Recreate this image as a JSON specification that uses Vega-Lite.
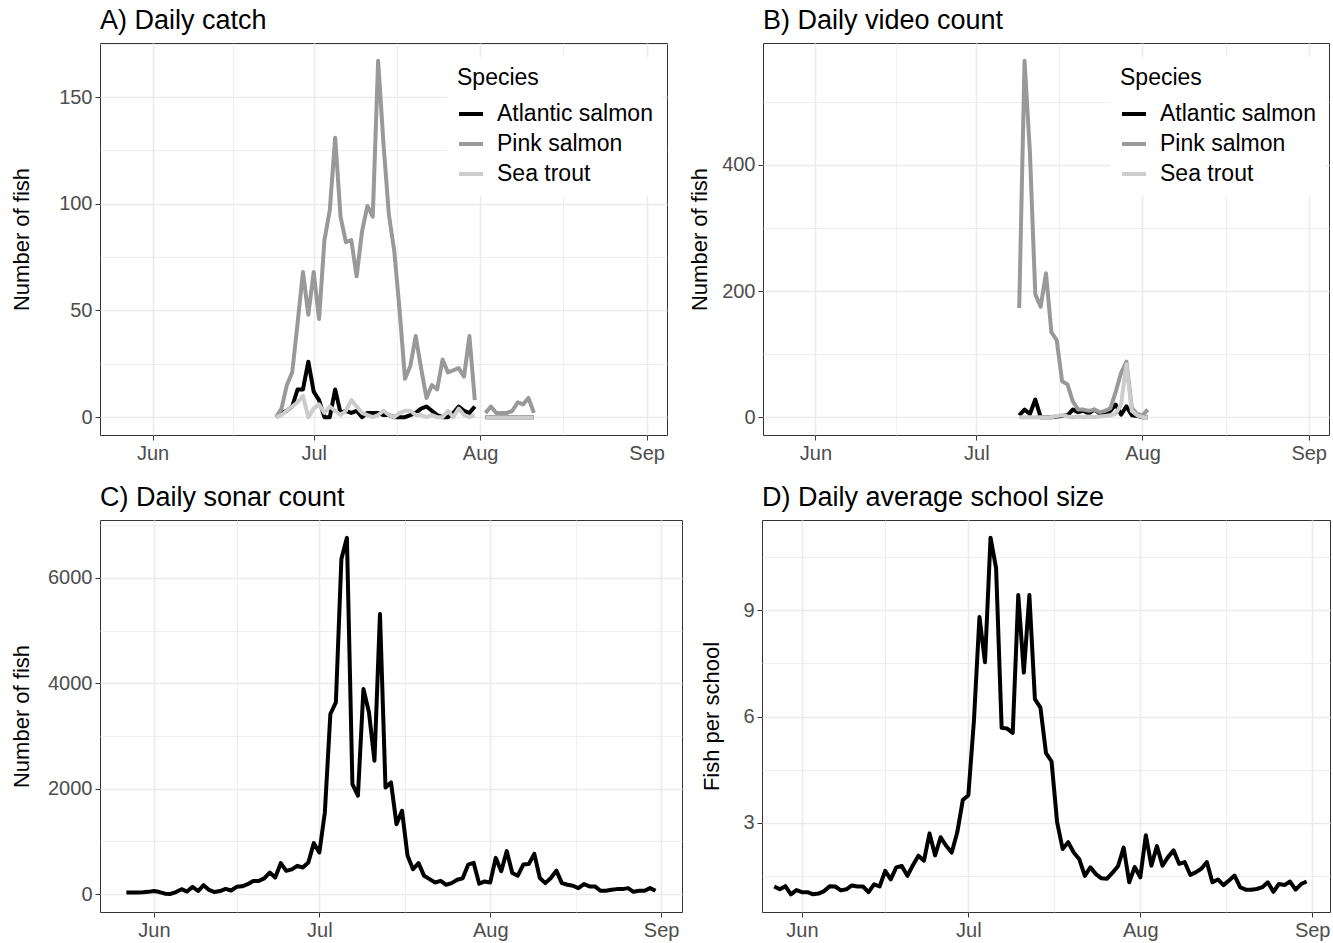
{
  "$schema": "https://vega.github.io/schema/vega-lite/v6.json",
  "padding": {"left": 9, "top": 6, "right": 0, "bottom": 0},
  "background": "white",
  "config": {
    "font": "Liberation Sans",
    "view": {"stroke": "#333333", "strokeWidth": 1},
    "axis": {"domain": false, "tickSize": 5, "tickWidth": 1, "labelColor": "#4d4d4d", "labelFontSize": 20, "labelPadding": 3, "titleFontSize": 22, "titleFontWeight": "normal", "titleColor": "#000000", "gridColor": "#ebebeb", "titlePadding": 9},
    "title": {"fontSize": 27, "fontWeight": "normal", "anchor": "start", "frame": "group", "color": "#000000", "offset": 8},
    "legend": {"orient": "none", "legendX": 347, "legendY": 14, "padding": 10, "fillColor": "white", "titleFontSize": 23, "titleFontWeight": "normal", "titleColor": "#000000", "labelFontSize": 23, "labelColor": "#000000", "symbolType": "stroke", "symbolSize": 576, "symbolStrokeWidth": 4, "labelOffset": 12, "rowPadding": 4, "titlePadding": 10}
  },
  "datasets": {
    "catch": [
      {"d":"2021-06-24","sp":"Atlantic salmon","n":0},{"d":"2021-06-25","sp":"Atlantic salmon","n":2},{"d":"2021-06-26","sp":"Atlantic salmon","n":3},{"d":"2021-06-27","sp":"Atlantic salmon","n":5},{"d":"2021-06-28","sp":"Atlantic salmon","n":13},{"d":"2021-06-29","sp":"Atlantic salmon","n":13},{"d":"2021-06-30","sp":"Atlantic salmon","n":26},
      {"d":"2021-07-01","sp":"Atlantic salmon","n":12},{"d":"2021-07-02","sp":"Atlantic salmon","n":8},{"d":"2021-07-03","sp":"Atlantic salmon","n":0},{"d":"2021-07-04","sp":"Atlantic salmon","n":0},{"d":"2021-07-05","sp":"Atlantic salmon","n":13},{"d":"2021-07-06","sp":"Atlantic salmon","n":2},{"d":"2021-07-07","sp":"Atlantic salmon","n":3},{"d":"2021-07-08","sp":"Atlantic salmon","n":2},{"d":"2021-07-09","sp":"Atlantic salmon","n":3},{"d":"2021-07-10","sp":"Atlantic salmon","n":0},{"d":"2021-07-11","sp":"Atlantic salmon","n":2},{"d":"2021-07-12","sp":"Atlantic salmon","n":2},{"d":"2021-07-13","sp":"Atlantic salmon","n":2},{"d":"2021-07-14","sp":"Atlantic salmon","n":1},{"d":"2021-07-15","sp":"Atlantic salmon","n":1},{"d":"2021-07-16","sp":"Atlantic salmon","n":0},{"d":"2021-07-17","sp":"Atlantic salmon","n":0},{"d":"2021-07-18","sp":"Atlantic salmon","n":0},{"d":"2021-07-19","sp":"Atlantic salmon","n":1},{"d":"2021-07-20","sp":"Atlantic salmon","n":2},{"d":"2021-07-21","sp":"Atlantic salmon","n":4},{"d":"2021-07-22","sp":"Atlantic salmon","n":5},{"d":"2021-07-23","sp":"Atlantic salmon","n":3},{"d":"2021-07-24","sp":"Atlantic salmon","n":1},{"d":"2021-07-25","sp":"Atlantic salmon","n":0},{"d":"2021-07-26","sp":"Atlantic salmon","n":0},{"d":"2021-07-27","sp":"Atlantic salmon","n":2},{"d":"2021-07-28","sp":"Atlantic salmon","n":5},{"d":"2021-07-29","sp":"Atlantic salmon","n":3},{"d":"2021-07-30","sp":"Atlantic salmon","n":2},{"d":"2021-07-31","sp":"Atlantic salmon","n":5},
      {"d":"2021-08-01","sp":"Atlantic salmon","n":null},{"d":"2021-08-02","sp":"Atlantic salmon","n":0},{"d":"2021-08-03","sp":"Atlantic salmon","n":0},{"d":"2021-08-04","sp":"Atlantic salmon","n":0},{"d":"2021-08-05","sp":"Atlantic salmon","n":0},{"d":"2021-08-06","sp":"Atlantic salmon","n":0},{"d":"2021-08-07","sp":"Atlantic salmon","n":0},{"d":"2021-08-08","sp":"Atlantic salmon","n":0},{"d":"2021-08-09","sp":"Atlantic salmon","n":0},{"d":"2021-08-10","sp":"Atlantic salmon","n":0},{"d":"2021-08-11","sp":"Atlantic salmon","n":0},
      {"d":"2021-06-24","sp":"Pink salmon","n":0},{"d":"2021-06-25","sp":"Pink salmon","n":4},{"d":"2021-06-26","sp":"Pink salmon","n":15},{"d":"2021-06-27","sp":"Pink salmon","n":21},{"d":"2021-06-28","sp":"Pink salmon","n":44},{"d":"2021-06-29","sp":"Pink salmon","n":68},{"d":"2021-06-30","sp":"Pink salmon","n":48},
      {"d":"2021-07-01","sp":"Pink salmon","n":68},{"d":"2021-07-02","sp":"Pink salmon","n":46},{"d":"2021-07-03","sp":"Pink salmon","n":83},{"d":"2021-07-04","sp":"Pink salmon","n":97},{"d":"2021-07-05","sp":"Pink salmon","n":131},{"d":"2021-07-06","sp":"Pink salmon","n":94},{"d":"2021-07-07","sp":"Pink salmon","n":82},{"d":"2021-07-08","sp":"Pink salmon","n":83},{"d":"2021-07-09","sp":"Pink salmon","n":66},{"d":"2021-07-10","sp":"Pink salmon","n":87},{"d":"2021-07-11","sp":"Pink salmon","n":99},{"d":"2021-07-12","sp":"Pink salmon","n":94},{"d":"2021-07-13","sp":"Pink salmon","n":167},{"d":"2021-07-14","sp":"Pink salmon","n":128},{"d":"2021-07-15","sp":"Pink salmon","n":95},{"d":"2021-07-16","sp":"Pink salmon","n":78},{"d":"2021-07-17","sp":"Pink salmon","n":50},{"d":"2021-07-18","sp":"Pink salmon","n":18},{"d":"2021-07-19","sp":"Pink salmon","n":24},{"d":"2021-07-20","sp":"Pink salmon","n":38},{"d":"2021-07-21","sp":"Pink salmon","n":23},{"d":"2021-07-22","sp":"Pink salmon","n":9},{"d":"2021-07-23","sp":"Pink salmon","n":15},{"d":"2021-07-24","sp":"Pink salmon","n":13},{"d":"2021-07-25","sp":"Pink salmon","n":27},{"d":"2021-07-26","sp":"Pink salmon","n":21},{"d":"2021-07-27","sp":"Pink salmon","n":22},{"d":"2021-07-28","sp":"Pink salmon","n":23},{"d":"2021-07-29","sp":"Pink salmon","n":19},{"d":"2021-07-30","sp":"Pink salmon","n":38},{"d":"2021-07-31","sp":"Pink salmon","n":8},
      {"d":"2021-08-01","sp":"Pink salmon","n":null},{"d":"2021-08-02","sp":"Pink salmon","n":2},{"d":"2021-08-03","sp":"Pink salmon","n":5},{"d":"2021-08-04","sp":"Pink salmon","n":2},{"d":"2021-08-05","sp":"Pink salmon","n":2},{"d":"2021-08-06","sp":"Pink salmon","n":2},{"d":"2021-08-07","sp":"Pink salmon","n":3},{"d":"2021-08-08","sp":"Pink salmon","n":7},{"d":"2021-08-09","sp":"Pink salmon","n":6},{"d":"2021-08-10","sp":"Pink salmon","n":9},{"d":"2021-08-11","sp":"Pink salmon","n":2},
      {"d":"2021-06-24","sp":"Sea trout","n":0},{"d":"2021-06-25","sp":"Sea trout","n":1},{"d":"2021-06-26","sp":"Sea trout","n":3},{"d":"2021-06-27","sp":"Sea trout","n":5},{"d":"2021-06-28","sp":"Sea trout","n":7},{"d":"2021-06-29","sp":"Sea trout","n":10},{"d":"2021-06-30","sp":"Sea trout","n":0},
      {"d":"2021-07-01","sp":"Sea trout","n":4},{"d":"2021-07-02","sp":"Sea trout","n":6},{"d":"2021-07-03","sp":"Sea trout","n":2},{"d":"2021-07-04","sp":"Sea trout","n":5},{"d":"2021-07-05","sp":"Sea trout","n":3},{"d":"2021-07-06","sp":"Sea trout","n":1},{"d":"2021-07-07","sp":"Sea trout","n":3},{"d":"2021-07-08","sp":"Sea trout","n":8},{"d":"2021-07-09","sp":"Sea trout","n":5},{"d":"2021-07-10","sp":"Sea trout","n":2},{"d":"2021-07-11","sp":"Sea trout","n":1},{"d":"2021-07-12","sp":"Sea trout","n":0},{"d":"2021-07-13","sp":"Sea trout","n":1},{"d":"2021-07-14","sp":"Sea trout","n":3},{"d":"2021-07-15","sp":"Sea trout","n":1},{"d":"2021-07-16","sp":"Sea trout","n":0},{"d":"2021-07-17","sp":"Sea trout","n":2},{"d":"2021-07-18","sp":"Sea trout","n":3},{"d":"2021-07-19","sp":"Sea trout","n":3},{"d":"2021-07-20","sp":"Sea trout","n":1},{"d":"2021-07-21","sp":"Sea trout","n":1},{"d":"2021-07-22","sp":"Sea trout","n":0},{"d":"2021-07-23","sp":"Sea trout","n":1},{"d":"2021-07-24","sp":"Sea trout","n":0},{"d":"2021-07-25","sp":"Sea trout","n":0},{"d":"2021-07-26","sp":"Sea trout","n":3},{"d":"2021-07-27","sp":"Sea trout","n":0},{"d":"2021-07-28","sp":"Sea trout","n":4},{"d":"2021-07-29","sp":"Sea trout","n":1},{"d":"2021-07-30","sp":"Sea trout","n":0},{"d":"2021-07-31","sp":"Sea trout","n":1},
      {"d":"2021-08-01","sp":"Sea trout","n":null},{"d":"2021-08-02","sp":"Sea trout","n":0},{"d":"2021-08-03","sp":"Sea trout","n":0},{"d":"2021-08-04","sp":"Sea trout","n":0},{"d":"2021-08-05","sp":"Sea trout","n":0},{"d":"2021-08-06","sp":"Sea trout","n":0},{"d":"2021-08-07","sp":"Sea trout","n":0},{"d":"2021-08-08","sp":"Sea trout","n":0},{"d":"2021-08-09","sp":"Sea trout","n":0},{"d":"2021-08-10","sp":"Sea trout","n":0},{"d":"2021-08-11","sp":"Sea trout","n":0}
    ],
    "video": [
      {"d":"2021-07-09","sp":"Atlantic salmon","n":3},{"d":"2021-07-10","sp":"Atlantic salmon","n":12},{"d":"2021-07-11","sp":"Atlantic salmon","n":5},{"d":"2021-07-12","sp":"Atlantic salmon","n":28},{"d":"2021-07-13","sp":"Atlantic salmon","n":0},{"d":"2021-07-14","sp":"Atlantic salmon","n":0},{"d":"2021-07-15","sp":"Atlantic salmon","n":0},{"d":"2021-07-16","sp":"Atlantic salmon","n":1},{"d":"2021-07-17","sp":"Atlantic salmon","n":2},{"d":"2021-07-18","sp":"Atlantic salmon","n":3},{"d":"2021-07-19","sp":"Atlantic salmon","n":12},{"d":"2021-07-20","sp":"Atlantic salmon","n":8},{"d":"2021-07-21","sp":"Atlantic salmon","n":10},{"d":"2021-07-22","sp":"Atlantic salmon","n":6},{"d":"2021-07-23","sp":"Atlantic salmon","n":12},{"d":"2021-07-24","sp":"Atlantic salmon","n":6},{"d":"2021-07-25","sp":"Atlantic salmon","n":5},{"d":"2021-07-26","sp":"Atlantic salmon","n":10},{"d":"2021-07-27","sp":"Atlantic salmon","n":20},{"d":"2021-07-28","sp":"Atlantic salmon","n":4},{"d":"2021-07-29","sp":"Atlantic salmon","n":17},{"d":"2021-07-30","sp":"Atlantic salmon","n":3},{"d":"2021-07-31","sp":"Atlantic salmon","n":2},{"d":"2021-08-01","sp":"Atlantic salmon","n":0},{"d":"2021-08-02","sp":"Atlantic salmon","n":0},
      {"d":"2021-07-09","sp":"Pink salmon","n":173},{"d":"2021-07-10","sp":"Pink salmon","n":565},{"d":"2021-07-11","sp":"Pink salmon","n":420},{"d":"2021-07-12","sp":"Pink salmon","n":195},{"d":"2021-07-13","sp":"Pink salmon","n":175},{"d":"2021-07-14","sp":"Pink salmon","n":228},{"d":"2021-07-15","sp":"Pink salmon","n":135},{"d":"2021-07-16","sp":"Pink salmon","n":122},{"d":"2021-07-17","sp":"Pink salmon","n":57},{"d":"2021-07-18","sp":"Pink salmon","n":52},{"d":"2021-07-19","sp":"Pink salmon","n":25},{"d":"2021-07-20","sp":"Pink salmon","n":12},{"d":"2021-07-21","sp":"Pink salmon","n":12},{"d":"2021-07-22","sp":"Pink salmon","n":10},{"d":"2021-07-23","sp":"Pink salmon","n":12},{"d":"2021-07-24","sp":"Pink salmon","n":8},{"d":"2021-07-25","sp":"Pink salmon","n":10},{"d":"2021-07-26","sp":"Pink salmon","n":14},{"d":"2021-07-27","sp":"Pink salmon","n":40},{"d":"2021-07-28","sp":"Pink salmon","n":70},{"d":"2021-07-29","sp":"Pink salmon","n":88},{"d":"2021-07-30","sp":"Pink salmon","n":15},{"d":"2021-07-31","sp":"Pink salmon","n":5},{"d":"2021-08-01","sp":"Pink salmon","n":3},{"d":"2021-08-02","sp":"Pink salmon","n":12},
      {"d":"2021-07-09","sp":"Sea trout","n":0},{"d":"2021-07-10","sp":"Sea trout","n":0},{"d":"2021-07-11","sp":"Sea trout","n":0},{"d":"2021-07-12","sp":"Sea trout","n":0},{"d":"2021-07-13","sp":"Sea trout","n":0},{"d":"2021-07-14","sp":"Sea trout","n":0},{"d":"2021-07-15","sp":"Sea trout","n":0},{"d":"2021-07-16","sp":"Sea trout","n":2},{"d":"2021-07-17","sp":"Sea trout","n":3},{"d":"2021-07-18","sp":"Sea trout","n":1},{"d":"2021-07-19","sp":"Sea trout","n":0},{"d":"2021-07-20","sp":"Sea trout","n":1},{"d":"2021-07-21","sp":"Sea trout","n":0},{"d":"2021-07-22","sp":"Sea trout","n":1},{"d":"2021-07-23","sp":"Sea trout","n":0},{"d":"2021-07-24","sp":"Sea trout","n":1},{"d":"2021-07-25","sp":"Sea trout","n":2},{"d":"2021-07-26","sp":"Sea trout","n":3},{"d":"2021-07-27","sp":"Sea trout","n":5},{"d":"2021-07-28","sp":"Sea trout","n":20},{"d":"2021-07-29","sp":"Sea trout","n":84},{"d":"2021-07-30","sp":"Sea trout","n":10},{"d":"2021-07-31","sp":"Sea trout","n":3},{"d":"2021-08-01","sp":"Sea trout","n":0},{"d":"2021-08-02","sp":"Sea trout","n":0}
    ],
    "sonar": [
      {"d":"2021-05-27","count":30,"school":1.20},{"d":"2021-05-28","count":32,"school":1.12},{"d":"2021-05-29","count":30,"school":1.21},{"d":"2021-05-30","count":35,"school":0.98},{"d":"2021-05-31","count":44,"school":1.10},
      {"d":"2021-06-01","count":60,"school":1.04},{"d":"2021-06-02","count":40,"school":1.04},{"d":"2021-06-03","count":10,"school":0.98},{"d":"2021-06-04","count":5,"school":1.00},{"d":"2021-06-05","count":40,"school":1.07},{"d":"2021-06-06","count":95,"school":1.21},{"d":"2021-06-07","count":50,"school":1.20},{"d":"2021-06-08","count":139,"school":1.09},{"d":"2021-06-09","count":60,"school":1.12},{"d":"2021-06-10","count":171,"school":1.23},{"d":"2021-06-11","count":80,"school":1.20},{"d":"2021-06-12","count":40,"school":1.20},{"d":"2021-06-13","count":60,"school":1.04},{"d":"2021-06-14","count":100,"school":1.26},{"d":"2021-06-15","count":70,"school":1.20},{"d":"2021-06-16","count":140,"school":1.64},{"d":"2021-06-17","count":150,"school":1.40},{"d":"2021-06-18","count":190,"school":1.74},{"d":"2021-06-19","count":250,"school":1.78},{"d":"2021-06-20","count":250,"school":1.50},{"d":"2021-06-21","count":300,"school":1.80},{"d":"2021-06-22","count":411,"school":2.07},{"d":"2021-06-23","count":316,"school":1.93},{"d":"2021-06-24","count":589,"school":2.70},{"d":"2021-06-25","count":443,"school":2.08},{"d":"2021-06-26","count":470,"school":2.59},{"d":"2021-06-27","count":538,"school":2.35},{"d":"2021-06-28","count":506,"school":2.16},{"d":"2021-06-29","count":601,"school":2.73},{"d":"2021-06-30","count":968,"school":3.64},
      {"d":"2021-07-01","count":791,"school":3.78},{"d":"2021-07-02","count":1550,"school":5.87},{"d":"2021-07-03","count":3418,"school":8.81},{"d":"2021-07-04","count":3640,"school":7.53},{"d":"2021-07-05","count":6360,"school":11.05},{"d":"2021-07-06","count":6760,"school":10.19},{"d":"2021-07-07","count":2089,"school":5.68},{"d":"2021-07-08","count":1867,"school":5.66},{"d":"2021-07-09","count":3892,"school":5.54},{"d":"2021-07-10","count":3450,"school":9.43},{"d":"2021-07-11","count":2532,"school":7.24},{"d":"2021-07-12","count":5316,"school":9.43},{"d":"2021-07-13","count":2025,"school":6.49},{"d":"2021-07-14","count":2120,"school":6.25},{"d":"2021-07-15","count":1329,"school":4.97},{"d":"2021-07-16","count":1582,"school":4.73},{"d":"2021-07-17","count":728,"school":3.02},{"d":"2021-07-18","count":475,"school":2.26},{"d":"2021-07-19","count":589,"school":2.45},{"d":"2021-07-20","count":348,"school":2.16},{"d":"2021-07-21","count":285,"school":1.97},{"d":"2021-07-22","count":222,"school":1.50},{"d":"2021-07-23","count":253,"school":1.74},{"d":"2021-07-24","count":179,"school":1.55},{"d":"2021-07-25","count":210,"school":1.43},{"d":"2021-07-26","count":274,"school":1.42},{"d":"2021-07-27","count":300,"school":1.59},{"d":"2021-07-28","count":560,"school":1.78},{"d":"2021-07-29","count":593,"school":2.30},{"d":"2021-07-30","count":198,"school":1.32},{"d":"2021-07-31","count":242,"school":1.75},
      {"d":"2021-08-01","count":223,"school":1.46},{"d":"2021-08-02","count":689,"school":2.65},{"d":"2021-08-03","count":434,"school":1.79},{"d":"2021-08-04","count":817,"school":2.34},{"d":"2021-08-05","count":402,"school":1.79},{"d":"2021-08-06","count":351,"school":2.03},{"d":"2021-08-07","count":561,"school":2.22},{"d":"2021-08-08","count":574,"school":1.84},{"d":"2021-08-09","count":765,"school":1.89},{"d":"2021-08-10","count":306,"school":1.53},{"d":"2021-08-11","count":210,"school":1.60},{"d":"2021-08-12","count":306,"school":1.70},{"d":"2021-08-13","count":447,"school":1.89},{"d":"2021-08-14","count":210,"school":1.32},{"d":"2021-08-15","count":179,"school":1.40},{"d":"2021-08-16","count":160,"school":1.24},{"d":"2021-08-17","count":115,"school":1.37},{"d":"2021-08-18","count":191,"school":1.51},{"d":"2021-08-19","count":147,"school":1.18},{"d":"2021-08-20","count":147,"school":1.11},{"d":"2021-08-21","count":64,"school":1.11},{"d":"2021-08-22","count":64,"school":1.13},{"d":"2021-08-23","count":83,"school":1.18},{"d":"2021-08-24","count":96,"school":1.32},{"d":"2021-08-25","count":96,"school":1.05},{"d":"2021-08-26","count":115,"school":1.27},{"d":"2021-08-27","count":45,"school":1.24},{"d":"2021-08-28","count":64,"school":1.34},{"d":"2021-08-29","count":64,"school":1.11},{"d":"2021-08-30","count":115,"school":1.27},{"d":"2021-08-31","count":64,"school":1.34}
    ]
  },
  "vconcat": [
    {
      "hconcat": [
        {
          "title": "A) Daily catch",
          "width": 567, "height": 392,
          "data": {"name": "catch"},
          "mark": {"type": "line", "strokeWidth": 4, "strokeJoin": "round"},
          "encoding": {
            "x": {"field": "d", "type": "temporal", "title": null,
              "scale": {"type": "utc", "domain": [{"year":2021,"month":5,"date":22,"hours":5,"utc":true},{"year":2021,"month":9,"date":4,"hours":19,"utc":true}]},
              "axis": {"values": [{"year":2021,"month":6,"date":1,"utc":true},{"year":2021,"month":6,"date":16,"utc":true},{"year":2021,"month":7,"date":1,"utc":true},{"year":2021,"month":7,"date":16,"hours":12,"utc":true},{"year":2021,"month":8,"date":1,"utc":true},{"year":2021,"month":8,"date":16,"hours":12,"utc":true},{"year":2021,"month":9,"date":1,"utc":true}],
                "labelExpr": "utcdate(datum.value) == 1 ? utcFormat(datum.value, '%b') : ''",
                "gridWidth": {"condition": {"test": "utcdate(datum.value) != 1", "value": 0.8}, "value": 1.6},
                "tickColor": {"condition": {"test": "utcdate(datum.value) != 1", "value": "rgba(0,0,0,0)"}, "value": "#333333"}}},
            "y": {"field": "n", "type": "quantitative", "title": "Number of fish",
              "scale": {"domain": [-8.35, 175.35], "nice": false, "zero": false},
              "axis": {"values": [0,25,50,75,100,125,150,175], "minExtent": 58, "maxExtent": 58,
                "labelExpr": "datum.value % 50 == 0 ? datum.label : ''",
                "gridWidth": {"condition": {"test": "datum.value % 50 != 0", "value": 0.8}, "value": 1.6},
                "tickColor": {"condition": {"test": "datum.value % 50 != 0", "value": "rgba(0,0,0,0)"}, "value": "#333333"}}},
            "color": {"field": "sp", "type": "nominal", "title": "Species",
              "scale": {"domain": ["Atlantic salmon", "Pink salmon", "Sea trout"], "range": ["#000000", "#999999", "#cccccc"]}}
          }
        },
        {
          "title": "B) Daily video count",
          "width": 566, "height": 392,
          "data": {"name": "video"},
          "mark": {"type": "line", "strokeWidth": 4, "strokeJoin": "round"},
          "encoding": {
            "x": {"field": "d", "type": "temporal", "title": null,
              "scale": {"type": "utc", "domain": [{"year":2021,"month":5,"date":22,"hours":5,"utc":true},{"year":2021,"month":9,"date":4,"hours":19,"utc":true}]},
              "axis": {"values": [{"year":2021,"month":6,"date":1,"utc":true},{"year":2021,"month":6,"date":16,"utc":true},{"year":2021,"month":7,"date":1,"utc":true},{"year":2021,"month":7,"date":16,"hours":12,"utc":true},{"year":2021,"month":8,"date":1,"utc":true},{"year":2021,"month":8,"date":16,"hours":12,"utc":true},{"year":2021,"month":9,"date":1,"utc":true}],
                "labelExpr": "utcdate(datum.value) == 1 ? utcFormat(datum.value, '%b') : ''",
                "gridWidth": {"condition": {"test": "utcdate(datum.value) != 1", "value": 0.8}, "value": 1.6},
                "tickColor": {"condition": {"test": "utcdate(datum.value) != 1", "value": "rgba(0,0,0,0)"}, "value": "#333333"}}},
            "y": {"field": "n", "type": "quantitative", "title": "Number of fish",
              "scale": {"domain": [-28.25, 593.25], "nice": false, "zero": false},
              "axis": {"values": [0,100,200,300,400,500], "minExtent": 43, "maxExtent": 43,
                "labelExpr": "datum.value % 200 == 0 ? datum.label : ''",
                "gridWidth": {"condition": {"test": "datum.value % 200 != 0", "value": 0.8}, "value": 1.6},
                "tickColor": {"condition": {"test": "datum.value % 200 != 0", "value": "rgba(0,0,0,0)"}, "value": "#333333"}}},
            "color": {"field": "sp", "type": "nominal", "title": "Species",
              "scale": {"domain": ["Atlantic salmon", "Pink salmon", "Sea trout"], "range": ["#000000", "#999999", "#cccccc"]}}
          }
        }
      ],
      "spacing": 96, "bounds": "flush", "resolve": {"legend": {"color": "independent"}, "scale": {"color": "independent"}}
    },
    {
      "hconcat": [
        {
          "title": "C) Daily sonar count",
          "width": 582, "height": 392,
          "data": {"name": "sonar"},
          "mark": {"type": "line", "strokeWidth": 4, "strokeJoin": "round", "color": "#000000"},
          "encoding": {
            "x": {"field": "d", "type": "temporal", "title": null,
              "scale": {"type": "utc", "domain": [{"year":2021,"month":5,"date":22,"hours":5,"utc":true},{"year":2021,"month":9,"date":4,"hours":19,"utc":true}]},
              "axis": {"values": [{"year":2021,"month":6,"date":1,"utc":true},{"year":2021,"month":6,"date":16,"utc":true},{"year":2021,"month":7,"date":1,"utc":true},{"year":2021,"month":7,"date":16,"hours":12,"utc":true},{"year":2021,"month":8,"date":1,"utc":true},{"year":2021,"month":8,"date":16,"hours":12,"utc":true},{"year":2021,"month":9,"date":1,"utc":true}],
                "labelExpr": "utcdate(datum.value) == 1 ? utcFormat(datum.value, '%b') : ''",
                "gridWidth": {"condition": {"test": "utcdate(datum.value) != 1", "value": 0.8}, "value": 1.6},
                "tickColor": {"condition": {"test": "utcdate(datum.value) != 1", "value": "rgba(0,0,0,0)"}, "value": "#333333"}}},
            "y": {"field": "count", "type": "quantitative", "title": "Number of fish",
              "scale": {"domain": [-338, 7098], "nice": false, "zero": false},
              "axis": {"values": [0,1000,2000,3000,4000,5000,6000,7000], "minExtent": 58, "maxExtent": 58,
                "labelExpr": "datum.value % 2000 == 0 ? datum.value + '' : ''",
                "gridWidth": {"condition": {"test": "datum.value % 2000 != 0", "value": 0.8}, "value": 1.6},
                "tickColor": {"condition": {"test": "datum.value % 2000 != 0", "value": "rgba(0,0,0,0)"}, "value": "#333333"}}}
          }
        },
        {
          "title": "D) Daily average school size",
          "width": 568, "height": 392,
          "data": {"name": "sonar"},
          "mark": {"type": "line", "strokeWidth": 4, "strokeJoin": "round", "color": "#000000"},
          "encoding": {
            "x": {"field": "d", "type": "temporal", "title": null,
              "scale": {"type": "utc", "domain": [{"year":2021,"month":5,"date":24,"hours":19,"utc":true},{"year":2021,"month":9,"date":4,"hours":5,"utc":true}]},
              "axis": {"values": [{"year":2021,"month":6,"date":1,"utc":true},{"year":2021,"month":6,"date":16,"utc":true},{"year":2021,"month":7,"date":1,"utc":true},{"year":2021,"month":7,"date":16,"hours":12,"utc":true},{"year":2021,"month":8,"date":1,"utc":true},{"year":2021,"month":8,"date":16,"hours":12,"utc":true},{"year":2021,"month":9,"date":1,"utc":true}],
                "labelExpr": "utcdate(datum.value) == 1 ? utcFormat(datum.value, '%b') : ''",
                "gridWidth": {"condition": {"test": "utcdate(datum.value) != 1", "value": 0.8}, "value": 1.6},
                "tickColor": {"condition": {"test": "utcdate(datum.value) != 1", "value": "rgba(0,0,0,0)"}, "value": "#333333"}}},
            "y": {"field": "school", "type": "quantitative", "title": "Fish per school",
              "scale": {"domain": [0.48, 11.55], "nice": false, "zero": false},
              "axis": {"values": [1.5,3,4.5,6,7.5,9,10.5], "minExtent": 30, "maxExtent": 30,
                "labelExpr": "datum.value % 3 == 0 ? datum.value + '' : ''",
                "gridWidth": {"condition": {"test": "datum.value % 3 != 0", "value": 0.8}, "value": 1.6},
                "tickColor": {"condition": {"test": "datum.value % 3 != 0", "value": "rgba(0,0,0,0)"}, "value": "#333333"}}}
          }
        }
      ],
      "spacing": 80, "bounds": "flush"
    }
  ],
  "spacing": 19
}
